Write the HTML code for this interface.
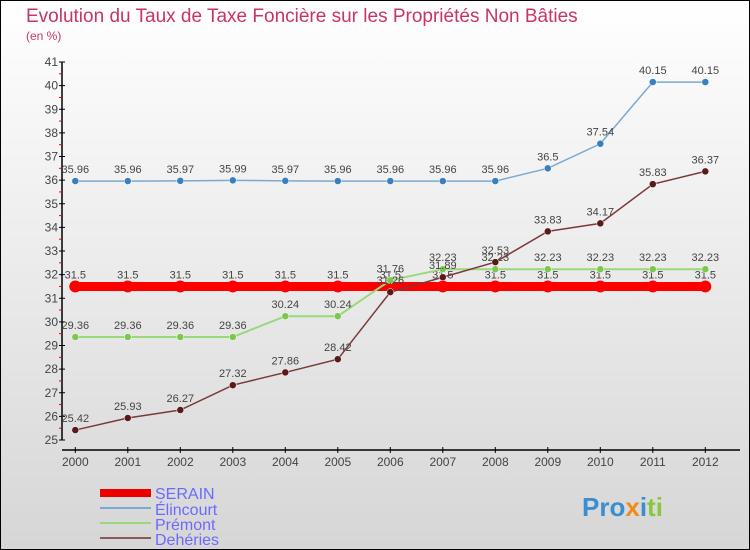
<!DOCTYPE html>
<html><head><meta charset="utf-8"><style>
body{margin:0;}
svg{display:block;font-family:"Liberation Sans",sans-serif;}
</style></head><body>
<svg id="c" width="750" height="550" viewBox="0 0 750 550">
<defs><linearGradient id="bg" x1="0" y1="0" x2="0" y2="1"><stop offset="0" stop-color="#ffffff"/><stop offset="1" stop-color="#d6d6d6"/></linearGradient></defs>
<rect x="0.5" y="0.5" width="749" height="549" fill="url(#bg)" stroke="#000"/>
<text x="26" y="22" font-size="19" fill="#c8336a">Evolution du Taux de Taxe Foncière sur les Propriétés Non Bâties</text>
<text x="26" y="40" font-size="12" fill="#c8336a">(en %)</text>
<g id="axes"></g>
<g id="series"></g>
<g>
<rect x="100" y="489" width="51" height="8" fill="#e00"/>
<text x="155" y="499" font-size="16" fill="#6a6aff">SERAIN</text>
<rect x="100" y="507" width="51" height="2" fill="#7aaad0"/>
<text x="155" y="515" font-size="16" fill="#6a6aff">Élincourt</text>
<rect x="100" y="522" width="51" height="2" fill="#99d97a"/>
<text x="155" y="530" font-size="16" fill="#6a6aff">Prémont</text>
<rect x="100" y="537" width="51" height="2" fill="#8a5a5a"/>
<text x="155" y="545" font-size="16" fill="#6a6aff">Dehéries</text>
</g>
<g font-size="26" font-weight="bold">
<text x="582" y="516"><tspan fill="#3a8fd0">Pro</tspan><tspan fill="#f08a1a">x</tspan><tspan fill="#3a8fd0">i</tspan><tspan fill="#8cc63f">ti</tspan></text>
</g>
</svg>
<script>
const years=[2000,2001,2002,2003,2004,2005,2006,2007,2008,2009,2010,2011,2012];
const serain=[31.5,31.5,31.5,31.5,31.5,31.5,31.5,31.5,31.5,31.5,31.5,31.5,31.5];
const elincourt=[35.96,35.96,35.97,35.99,35.97,35.96,35.96,35.96,35.96,36.5,37.54,40.15,40.15];
const premont=[29.36,29.36,29.36,29.36,30.24,30.24,31.76,32.23,32.23,32.23,32.23,32.23,32.23];
const deheries=[25.42,25.93,26.27,27.32,27.86,28.42,31.26,31.89,32.53,33.83,34.17,35.83,36.37];
const yTicks=[25,26,27,28,29,30,31,32,33,34,35,36,37,38,39,40,41];
const NS='http://www.w3.org/2000/svg';
function X(i){return 75.3+i*52.5;}
function Y(v){return 440-(v-25)*23.625;}
function mk(tag,attrs,parent){const e=document.createElementNS(NS,tag);for(const k in attrs)e.setAttribute(k,attrs[k]);parent.appendChild(e);return e;}
const ax=document.getElementById('axes');
const yAxis=mk('line',{x1:62,y1:Y(41),x2:62,y2:Y(25),stroke:'#000','stroke-width':1.5},ax);


const xAxis=mk('line',{x1:62,y1:450,x2:740,y2:450,stroke:'#000','stroke-width':1.5},ax);


yTicks.forEach(v=>{
  mk('line',{x1:59,y1:Y(v),x2:65,y2:Y(v),stroke:'#000'},ax);
  if(v<41) mk('line',{x1:59,y1:Y(v+0.5),x2:62,y2:Y(v+0.5),stroke:'#e00'},ax);
  const t=mk('text',{x:58,y:Y(v)+4,'font-size':12,fill:'#444','text-anchor':'end'},ax);
  t.textContent=v;
  
  
});
years.forEach((y,i)=>{
  mk('line',{x1:X(i),y1:447,x2:X(i),y2:453,stroke:'#000'},ax);
  const t=mk('text',{x:X(i),y:466,'font-size':12,fill:'#444','text-anchor':'middle'},ax);
  t.textContent=y;
  
  
});
const sg=document.getElementById('series');
function draw(vals,color,width,r,name,fill,sw){
  const pts=vals.map((v,i)=>X(i)+','+Y(v)).join(' ');
  const pl=mk('polyline',{points:pts,fill:'none',stroke:color,'stroke-width':width},sg);
  
  
  vals.forEach((v,i)=>{
    const c=mk('circle',{cx:X(i),cy:Y(v),r:r,fill:fill,stroke:'#fff','stroke-width':sw},sg);
    
    
    const t=mk('text',{x:X(i),y:Y(v)-8,'font-size':11,fill:'#444','text-anchor':'middle'},sg);
    t.textContent=v;
    
    
  });
}
draw(serain,'#f00',9,6,'serain','#f00',0);
draw(elincourt,'#7aaad0',1.5,3.5,'elincourt','#3a7fbf',0.5);
draw(premont,'#99d97a',2,3.5,'premont','#7cc84e',0.5);
draw(deheries,'#7a3a3a',1.5,3.5,'deheries','#5a1a1a',0.5);
</script>
</body></html>
